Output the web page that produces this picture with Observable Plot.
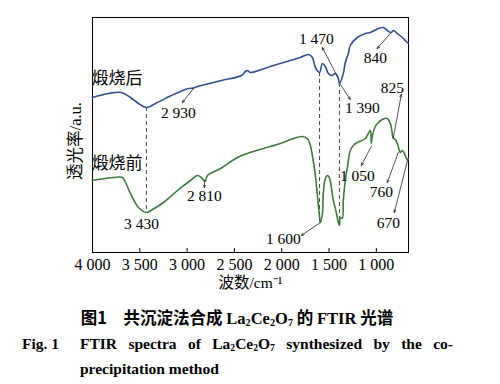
<!DOCTYPE html>
<html><head><meta charset="utf-8">
<script src="https://cdn.jsdelivr.net/npm/d3@7"></script>
<script src="https://cdn.jsdelivr.net/npm/@observablehq/plot@0.6"></script>
<style>
body{margin:0;background:#fff;width:500px;}
#cap{font-family:"Liberation Serif","Noto Sans CJK SC",serif;font-weight:bold;color:#000;}
.c1{position:absolute;left:0;width:474px;top:305px;text-align:center;font-size:16.5px;line-height:24px;}
.c1 .cjk{font-family:"Noto Sans CJK SC";font-weight:bold;}
.fig{position:absolute;left:22px;top:331px;font-size:15.5px;line-height:25px;}
.body{position:absolute;left:80px;top:331px;width:373px;font-size:15.5px;line-height:25px;}
.j{text-align:justify;text-align-last:justify;}
sub{font-size:0.62em;vertical-align:-0.2em;line-height:0;}
svg text{font-family:"Liberation Serif","Noto Sans CJK SC",serif;}
</style></head>
<body>
<div id="chart"></div>
<div id="cap">
<div class="c1"><span class="cjk">图1　共沉淀法合成 </span>La<sub>2</sub>Ce<sub>2</sub>O<sub>7</sub><span class="cjk"> 的 </span>FTIR<span class="cjk"> 光谱</span></div>
<div class="fig">Fig. 1</div>
<div class="body"><div class="j">FTIR spectra of La<sub>2</sub>Ce<sub>2</sub>O<sub>7</sub> synthesized by the co-</div><div>precipitation method</div></div>
</div>
<script>
// wavenumber (cm-1) and transmittance (a.u.)
const afterWn = [4000,3831,3694,3599,3514,3430,3335,3166,2986,2933,2890,2806,2637,2426,2384,2363,2331,2088,1909,1803,1718,1676,1644,1600,1570,1539,1507,1470,1433,1402,1390,1349,1328,1296,1275,1201,1116,1063,979,926,895,870,842,820,778,725,694,662];
const afterT  = [155,159,160,155,149,145,149,157,164,164.5,166,168,172,177,181,182,180,187,192,195,198,195,185,180,189,186,179,177,179,174,169,179,190,199,207,215,219,220,224,225,223,221,220,222,219,215,212,209];
const beforeWn = [4000,3778,3683,3651,3599,3514,3430,3366,3250,3102,2965,2891,2849,2810,2785,2648,2468,2363,2194,2014,1877,1782,1729,1697,1676,1644,1623,1602,1592,1570,1560,1539,1518,1497,1475,1454,1423,1402,1390,1381,1360,1349,1328,1306,1275,1233,1201,1116,1085,1063,1053,1042,1011,989,937,884,852,831,825,800,778,760,747,725,694,670,662];
const beforeT  = [72,75,75,70,59,45,40,43,50,62,72,77,75,71,77,84,95,99,104,109,114,116,114,107,97,77,57,37,30,39,60,74,77,75,65,52,40,30,27,35,34,52,72,85,102,108,110,114,119,122,109,117,126,129,133,134,129,119,115,113,109,103,100,102,97,92,94];
const xTicks = [4000,3500,3000,2500,2000,1500,1000];
const seriesNames = ["煅烧后","煅烧前"];
const seriesLabelT = [174,89];
// peak annotations: label, label position, arrow tail (on curve) and head (at label)
const peakLabels = ["2 930","1 470","1 390","840","825","3 430","2 810","1 600","1 050","760","670"];
const peakLabelWn = [3092,1634,1148,1011,831,3482,2817,1982,1201,947,873];
const peakLabelT  = [139,213,144,194,164,28,56,13,76,60,29];
const arrowFromWn = [2933,1412,1380,852,820,null,2817,1592,1053,768,673];
const arrowFromT  = [164,176,168,219,115,null,72,30,106,100,91];
const arrowToWn   = [3049,1571,1275,990,736,null,2817,1792,1159,884,810];
const arrowToT    = [150,205,153,204,158,null,65,17,87,70,40];
// dashed guide lines
const guideWn = [3430,1600,1390];
const guideTop = [145,180,169];
const guideBottom = [40,30,27];

const after = afterWn.map((w,i)=>({w,t:afterT[i]}));
const before = beforeWn.map((w,i)=>({w,t:beforeT[i]}));
const peaks = peakLabels.map((l,i)=>({l,w:peakLabelWn[i],t:peakLabelT[i]}));
const arrows = peakLabels.map((l,i)=>({x1:arrowFromWn[i],y1:arrowFromT[i],x2:arrowToWn[i],y2:arrowToT[i]})).filter(d=>d.x1!=null);
const guides = guideWn.map((w,i)=>({w,y1:guideTop[i],y2:guideBottom[i]}));
const series = seriesNames.map((n,i)=>({n,t:seriesLabelT[i]}));
const fmt = d => d3.format(",")(d).replace(","," ");
const serif = "'Liberation Serif', 'Noto Sans CJK SC', serif";

const plot = Plot.plot({
  width: 500, height: 290,
  marginLeft: 92, marginRight: 92, marginTop: 17, marginBottom: 38,
  style: {fontFamily: serif, fontSize: "15px", color: "#000", background: "#fff"},
  x: {domain: [4000, 660]},
  y: {domain: [0, 235], axis: null},
  marks: [
    Plot.frame({stroke: "#000", strokeWidth: 1}),
    Plot.ruleX(xTicks, {x: d=>d, y1: 0, y2: 4, stroke: "#000"}),
    Plot.axisX({ticks: xTicks, tickFormat: fmt, tickSize: 0, tickPadding: 6, fontSize: 16, fontFamily: serif, label: null}),
    Plot.text(["波数/cm⁻¹"], {frameAnchor: "bottom", dy: 35, fontSize: 15.5, fontFamily: serif}),
    Plot.text(["透光率/a.u."], {frameAnchor: "left", textAnchor: "middle", rotate: -90, dx: -17, dy: 6, fontSize: 16.5, fontFamily: serif}),
    Plot.ruleX(guides, {x: "w", y1: "y1", y2: "y2", stroke: "#444", strokeWidth: 1, strokeDasharray: "4,3"}),
    Plot.line(after, {x: "w", y: "t", stroke: "#2f4f8f", strokeWidth: 1.6, curve: "catmull-rom"}),
    Plot.line(before, {x: "w", y: "t", stroke: "#3e7a3e", strokeWidth: 1.6, curve: "catmull-rom"}),
    Plot.arrow(arrows, {x1: "x1", y1: "y1", x2: "x2", y2: "y2", stroke: "#222", strokeWidth: 0.8, headLength: 5, headAngle: 45, bend: false}),
    Plot.text(peaks, {x: "w", y: "t", text: "l", fontSize: 15.5, fontFamily: serif, fill: "#000"}),
    Plot.text(series, {x: ()=>4000, y: "t", text: "n", textAnchor: "start", dx: -1, fontSize: 17, fontFamily: "'Noto Sans CJK SC'", fill: "#000"})
  ]
});
document.getElementById("chart").appendChild(plot);
</script>
</body></html>
